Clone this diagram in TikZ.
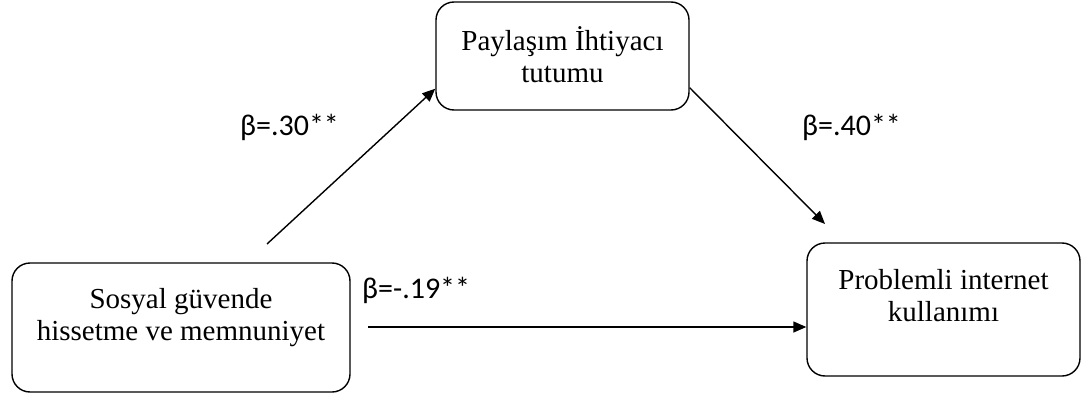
\documentclass[tikz,border=0pt]{standalone}
\usepackage{fontspec}
\setmainfont{Liberation Serif}
\newfontfamily\coeffont{Carlito}
\usepackage{tikz}
\usetikzlibrary{arrows.meta}
\tikzset{box/.style={draw, line width=1.4pt, rounded corners=18pt, inner sep=0pt}}
\tikzset{boxtext/.style={align=center, inner sep=0pt, font=\fontsize{29}{32}\selectfont}}
\tikzset{link/.style={line width=1.4pt, -{Triangle[length=13pt,width=11pt]}}}
\tikzset{coef/.style={anchor=base west, inner sep=0pt, font=\coeffont\fontsize{30}{33}\selectfont}}

\begin{document}
\begin{tikzpicture}[x=1pt,y=-1pt]
\useasboundingbox (0,0) rectangle (1087,396);
\node[box, minimum width=338pt, minimum height=129pt] (sosyal) at (181,327.5) {};
\node[box, minimum width=253pt, minimum height=108pt] (pay) at (562.5,56) {};
\node[box, minimum width=273pt, minimum height=133pt] (prob) at (943.5,309.5) {};
\node[boxtext] (sosyaltxt) at ([yshift=9.5pt]sosyal.center) {Sosyal güvende\\hissetme ve memnuniyet};
\node[boxtext] (paytxt) at ([yshift=1pt]pay.center) {Paylaşım İhtiyacı\\tutumu};
\node[boxtext] (probtxt) at ([yshift=14pt]prob.center) {Problemli internet\\kullanımı};
%\draw[link] (sosyal) -- (pay);
\coordinate (sosyalup) at (267,244);
\coordinate (probin) at (825,224);
\coordinate (sosyalright) at (368,327);
\draw[link] (sosyalup) -- ([yshift=22pt]pay.south west);
\draw[link] ([yshift=23pt]pay.south east) -- (probin);
\draw[link] (sosyalright) -- (prob.west |- sosyalright);
\node[coef] (b1) at (240,135) {β=.30**};
\node[coef] (b2) at (802,135) {β=.40**};
\node[coef] (b3) at (362,298) {β=-.19**};
\end{tikzpicture}
\end{document}
